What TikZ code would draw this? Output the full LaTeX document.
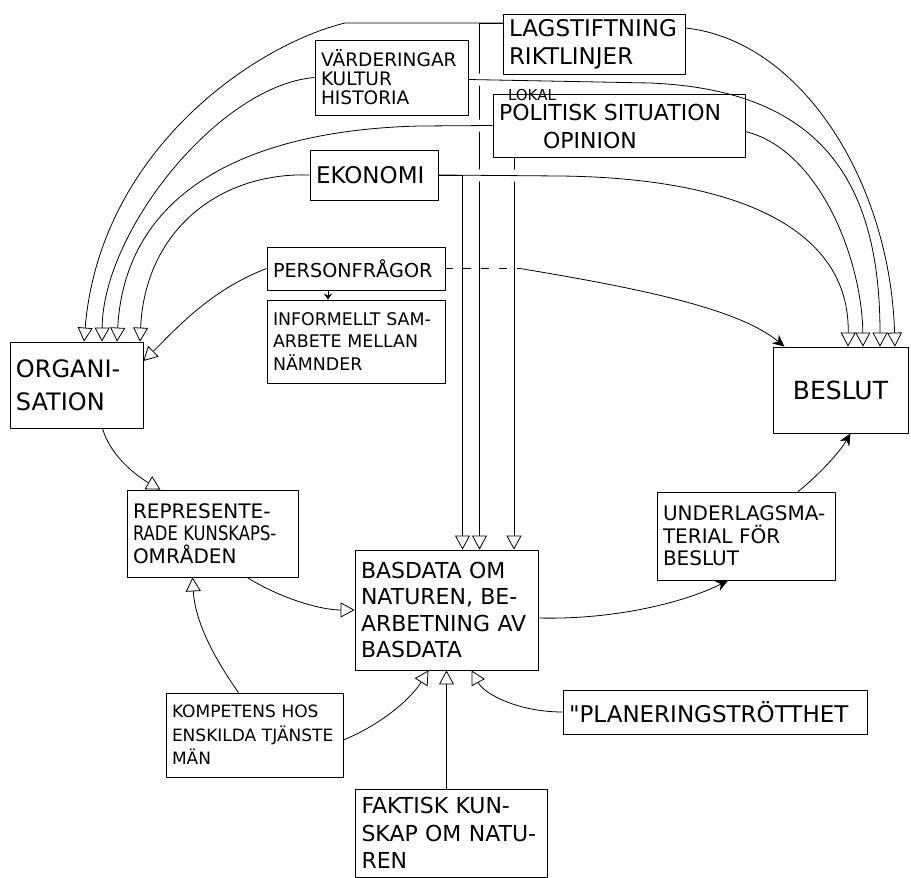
\documentclass[tikz,border=0pt]{standalone}
\usepackage{fontspec}
\setmainfont{DejaVu Sans}
\usetikzlibrary{arrows.meta}
\pgfdeclarelayer{paper}
\pgfdeclarelayer{lines}
\pgfsetlayers{paper,lines,main}
\newcommand{\handsize}[2]{\fontsize{#1}{#2}\selectfont}

\begin{document}
\begin{tikzpicture}[x=0.5pt, y=-0.5pt, line width=1.5pt, line cap=round, line join=round,
    box/.style={draw, rectangle, inner xsep=3pt, inner ysep=1pt, align=left},
    tri/.style={-{Triangle[open, length=7pt, width=7.5pt]}},
    stk/.style={-{Stealth[length=6pt, width=5.5pt]}},
    bridge/.style={preaction={draw=white, line width=6pt}}]
    \useasboundingbox (0,0) rectangle (911,878);
    \begin{pgfonlayer}{paper}
      \fill[white] (0,0) rectangle (911,878);
    \end{pgfonlayer}

    \node (lag) [box, text width=85pt, minimum height=30pt, font=\handsize{11.5}{14}] at (594,44) {LAGSTIFTNING\\RIKTLINJER};
    \node (vard) [box, text width=70.5pt, minimum height=37.5pt, font=\handsize{9.3}{9.5}] at (391.5,77.5) {VÄRDERINGAR\\KULTUR\\HISTORIA};
    \node (pol) [box, text width=120pt, minimum height=31.5pt, font=\handsize{11}{14}] at (619,125.5) {\rule{0pt}{9.5pt}POLITISK SITUATION\\\hspace*{22pt}OPINION};
    \node (lokal) [inner sep=0pt, font=\handsize{7.5}{9}] at (532,95) {LOKAL};
    \node (eko) [box, text width=58pt, minimum height=25pt, font=\handsize{11.5}{14}] at (374,175) {EKONOMI};
    \node (pers) [box, text width=83pt, minimum height=21.5pt, font=\handsize{9.6}{12}] at (356,268.5) {PERSONFRÅGOR};
    \node (info) [box, text width=83pt, minimum height=41.5pt, font=\handsize{8.7}{11.3}] at (356,341.5) {INFORMELLT SAM-\\ARBETE MELLAN\\NÄMNDER};
    \node (org) [box, text width=60.5pt, minimum height=43pt, font=\handsize{12}{16.5}] at (76.5,385) {ORGANI-\\SATION};
    \node (beslut) [box, minimum width=67.5pt, minimum height=43pt, font=\handsize{12.5}{15}] at (840.5,390) {BESLUT};
    \node (rep) [box, text width=79.5pt, minimum height=43.5pt, font=\handsize{10}{11.3}] at (212.5,533.5) {REPRESENTE-\\\scalebox{0.82}[1]{RADE KUNSKAPS-}\\OMRÅDEN};
    \node (bas) [box, text width=85.5pt, minimum height=60pt, font=\handsize{11}{13.3}] at (446.5,610) {BASDATA OM\\NATUREN, BE-\\ARBETNING AV\\BASDATA};
    \node (und) [box, text width=83pt, minimum height=44pt, font=\handsize{10}{11.3}] at (746,536) {UNDERLAGSMA-\\TERIAL FÖR\\BESLUT};
    \node (komp) [box, text width=82.5pt, minimum height=42pt, font=\handsize{8.5}{11.7}] at (254.5,735) {KOMPETENS HOS\\ENSKILDA TJÄNSTE\\MÄN};
    \node (plan) [box, text width=146pt, minimum height=22pt, font=\handsize{11.5}{14}] at (715,712) {\textquotedbl PLANERINGSTRÖTTHET};
    \node (fak) [box, text width=90pt, minimum height=44pt, font=\handsize{11}{13.7}] at (451.5,833) {FAKTISK KUN-\\SKAP OM NATU-\\REN};
    \coordinate (pbreak) at (520,268.5);

    \begin{pgfonlayer}{lines}
      \draw[dashed, dash pattern=on 4pt off 5pt] (pers.east) -- (pbreak);
      \draw[tri] ([yshift=10.5pt]lag.west) -| ([xshift=16.5pt]bas.north);
      \draw[tri] ([xshift=-52.5pt]pol.south) -- ([xshift=33.75pt]bas.north);
      \draw[tri, bridge] (pol.west) -- (420,126) .. controls (250,130) and (125,190) .. ([xshift=20.25pt]org.north);
      \draw[tri, bridge] ([yshift=-1pt]vard.east) -- (650,83) .. controls (820,90) and (880,180) .. ([xshift=19.75pt]beslut.north);
      \draw[tri, bridge] (eko.east) -- (560,176) .. controls (740,178) and (850,230) .. ([xshift=3.75pt]beslut.north);
      \draw[tri] (eko.east) -| ([xshift=8pt]bas.north);
      \draw[tri] ([yshift=10.5pt]lag.west) -- (345,23) .. controls (255,45) and (100,150) .. ([xshift=3.75pt]org.north);
      \draw[tri] (vard.west) .. controls (220,85) and (103,230) .. ([xshift=12.75pt]org.north);
      \draw[tri] (eko.west) .. controls (220,172) and (145,230) .. ([xshift=31.75pt]org.north);
      \draw[tri] ([yshift=-3pt]pol.east) .. controls (820,150) and (862,260) .. ([xshift=11.25pt]beslut.north);
      \draw[tri] ([yshift=8pt]lag.east) .. controls (800,40) and (890,180) .. ([xshift=27.25pt]beslut.north);
      \draw[tri] (pers.west) .. controls (210,290) and (175,330) .. ([yshift=12pt]org.east);
      \draw[stk] (pbreak) .. controls (650,290) and (740,310) .. ([xshift=-28pt]beslut.north);
      \draw[-{Stealth[length=3pt, width=4pt]}] ([xshift=-14pt]pers.south) -- ([xshift=-14pt]info.north);
      \draw[tri] ([xshift=13pt]org.south) .. controls (110,455) and (135,475) .. ([xshift=-26pt]rep.north);
      \draw[tri] ([xshift=17.25pt]rep.south) .. controls (280,598) and (320,610) .. (bas.west);
      \draw[tri] ([xshift=-8pt]komp.north) .. controls (212,655) and (195,620) .. ([xshift=-10pt]rep.south);
      \draw[tri] ([yshift=-2.5pt]komp.east) .. controls (380,725) and (410,700) .. ([xshift=-9pt]bas.south);
      \draw[tri] (bas.south |- fak.north) -- (bas.south);
      \draw[tri] (plan.west) .. controls (520,712) and (485,695) .. ([xshift=12.5pt]bas.south);
      \draw[stk] ([yshift=-4pt]bas.east) .. controls (620,620) and (690,600) .. ([xshift=-9pt]und.south);
      \draw[stk] ([xshift=26pt]und.north) .. controls (815,478) and (838,455) .. ([xshift=5pt]beslut.south);
    \end{pgfonlayer}
\end{tikzpicture}
\end{document}
